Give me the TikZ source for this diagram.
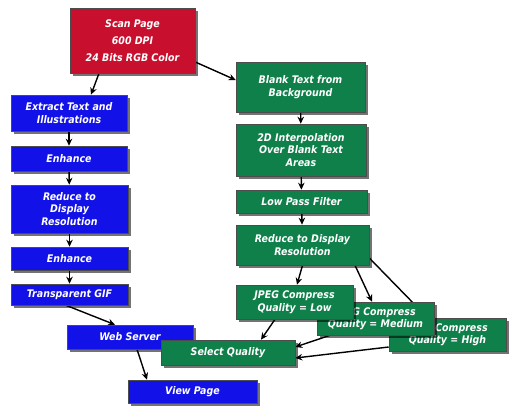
\documentclass[tikz,border=0pt]{standalone}
\usepackage{fontspec}
\setmainfont{DejaVu Sans Condensed}
\usetikzlibrary{arrows.meta,shadows,backgrounds}
\definecolor{scanred}{RGB}{200,16,46}
\definecolor{stepblue}{RGB}{18,18,232}
\definecolor{stepgreen}{RGB}{16,128,74}
\tikzset{
  box/.style={draw=black!70, line width=.6pt, text=white, align=center, inner sep=1pt,
    font=\fontsize{10.5}{12.5}\selectfont\bfseries\itshape,
    drop shadow={shadow xshift=2.5pt, shadow yshift=-2.5pt, fill=black, opacity=.55}},
  redbox/.style={box, fill=scanred, font=\fontsize{10.5}{17}\selectfont\bfseries\itshape},
  bluebox/.style={box, fill=stepblue},
  greenbox/.style={box, fill=stepgreen},
  edge/.style={-{Stealth[length=7pt,width=6.5pt]}, line width=1.4pt}
}

\begin{document}
\begin{tikzpicture}[x=1pt,y=-1pt]
  \useasboundingbox (0,0) rectangle (518,416);
  % scan
  \node[redbox, minimum width=125, minimum height=65] (scan) at (132.5,40.5)
    {Scan Page\\600 DPI\\24 Bits RGB Color};
  % text path
  \node[bluebox, minimum width=116, minimum height=36] (extract) at (69,113)
    {Extract Text and\\Illustrations};
  \node[bluebox, minimum width=116, minimum height=25] (enhA) at (69,158.5) {Enhance};
  \node[bluebox, minimum width=117, minimum height=48] (reduceB) at (69.5,209)
    {Reduce to\\Display\\Resolution};
  \node[bluebox, minimum width=117, minimum height=23] (enhB) at (69.5,258.5) {Enhance};
  \node[bluebox, minimum width=117, minimum height=21] (gif) at (69.5,294.5) {Transparent GIF};
  \node[bluebox, minimum width=126, minimum height=24] (web) at (130,337) {Web Server};
  \node[bluebox, minimum width=129, minimum height=23] (view) at (192.5,391.5) {View Page};
  % background path
  \node[greenbox, minimum width=129, minimum height=50] (blank) at (300.5,87)
    {Blank Text from\\Background};
  \node[greenbox, minimum width=130, minimum height=52] (interp) at (301,150)
    {2D Interpolation\\Over Blank Text\\Areas};
  \node[greenbox, minimum width=131, minimum height=23] (lowpass) at (301.5,201.5) {Low Pass Filter};
  \node[greenbox, minimum width=133, minimum height=40] (reduceG) at (302.5,245)
    {Reduce to Display\\Resolution};
  \node[greenbox, minimum width=117, minimum height=33] (high) at (447.5,334.5)
    {JPEG Compress\\Quality = High};
  \node[greenbox, minimum width=117, minimum height=33] (medium) at (375.5,318.5)
    {JPEG Compress\\Quality = Medium};
  \node[greenbox, minimum width=117, minimum height=34] (low) at (294.5,302)
    {JPEG Compress\\Quality = Low};
  \node[greenbox, minimum width=134, minimum height=25] (select) at (228,352.5) {Select Quality};

  \begin{scope}[on background layer]
    \draw[edge] ([xshift=-33.5pt]scan.south) -- ([xshift=22pt]extract.north);
    \draw[edge] ([yshift=-21.5pt]scan.east) -- ([yshift=7pt]blank.west);
    \draw[edge] (extract) -- (enhA);
    \draw[edge] (enhA) -- (reduceB);
    \draw[edge] (reduceB) -- (enhB);
    \draw[edge] (enhB) -- (gif);
    \draw[edge] ([xshift=-3.5pt]gif.south) -- ([xshift=-15pt]web.north);
    \draw[edge] ([xshift=7pt]web.south) -- ([xshift=-45.5pt]view.north);
    \draw[edge] (blank) -- (interp);
    \draw[edge] (interp) -- (lowpass);
    \draw[edge] (lowpass) -- (reduceG);
    \draw[edge] (reduceG.south) -- ([xshift=2.5pt]low.north);
    \draw[edge] ([xshift=52.5pt]reduceG.south) -- ([xshift=-3.5pt]medium.north);
    \draw[edge] ([yshift=-13pt]reduceG.east) -- ([xshift=-20pt]high.north);
    \draw[edge] ([xshift=-19.5pt]low.south) -- ([xshift=33pt]select.north);
    \draw[edge] ([xshift=-45.5pt]medium.south) -- ([yshift=5.5pt]select.east);
    \draw[edge] ([yshift=-12.5pt]high.west) -- ([yshift=-5.5pt]select.east);
  \end{scope}
\end{tikzpicture}
\end{document}
